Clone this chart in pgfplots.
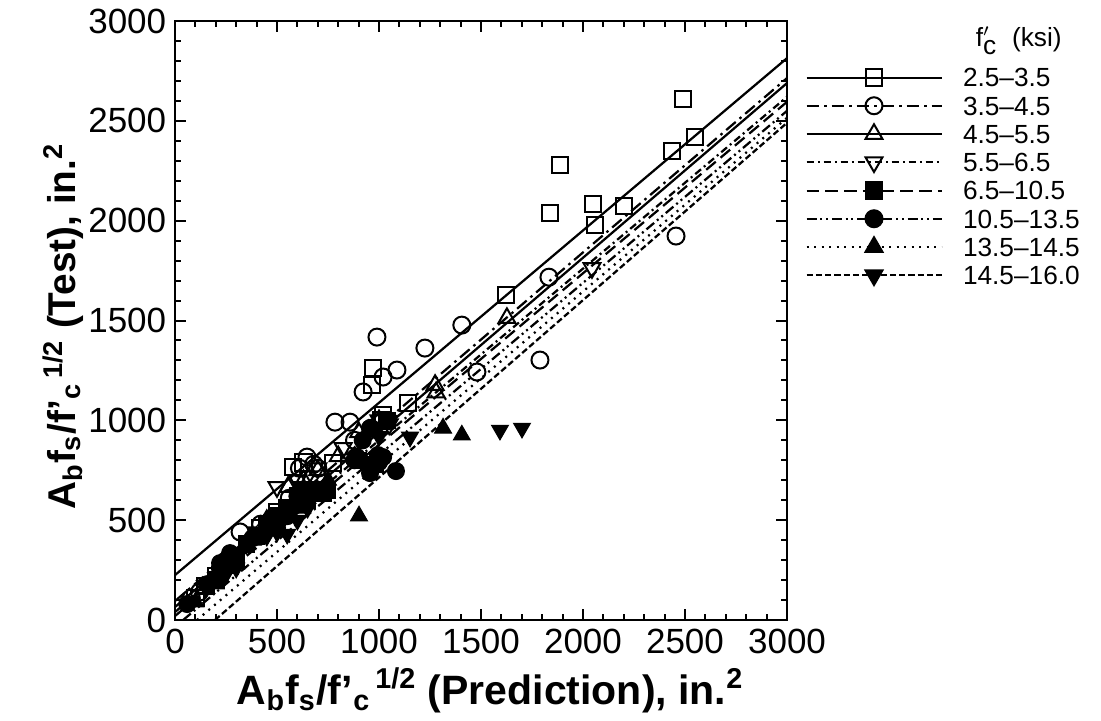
\documentclass[border=0pt]{standalone}
\usepackage{fontspec}
\setmainfont{Liberation Sans}
\usepackage{pgfplots}
\pgfplotsset{compat=1.18}

\pgfplotsset{
  lA/.style={solid},
  lB/.style={dash pattern=on 5pt off 2pt on 1pt off 2pt},
  lC/.style={solid},
  lD/.style={dash pattern=on 3pt off 1.5pt on 0.8pt off 1.5pt},
  lE/.style={dash pattern=on 5pt off 2.5pt},
  lF/.style={dash pattern=on 4pt off 1.5pt on 0.8pt off 1.5pt on 0.8pt off 1.5pt},
  lG/.style={dash pattern=on 0.8pt off 2.2pt},
  lH/.style={dash pattern=on 2.5pt off 1.2pt},
  mA/.style={mark=square, mark size=3.3pt, mark options={solid, line width=0.8pt}},
  mB/.style={mark=o, mark size=3.4pt, mark options={solid, line width=0.8pt}},
  mC/.style={mark=triangle, mark size=3.9pt, mark options={solid, line width=0.8pt}},
  mD/.style={mark=triangle, mark size=3.9pt, mark options={solid, line width=0.8pt, rotate=180}},
  mE/.style={mark=square*, mark size=3.3pt, mark options={solid, fill=black}},
  mF/.style={mark=*, mark size=3.4pt, mark options={solid, fill=black}},
  mG/.style={mark=triangle*, mark size=3.9pt, mark options={solid, fill=black}},
  mH/.style={mark=triangle*, mark size=3.9pt, mark options={solid, fill=black, rotate=180}},
}

\begin{document}
\begin{tikzpicture}
\begin{axis}[name=ax, scale only axis, width=244.8pt, height=239.6pt,
  xmin=0, xmax=3000, ymin=0, ymax=3000,
  xtick={0,500,...,3000}, ytick={0,500,...,3000},
  minor x tick num=4, minor y tick num=4,
  major tick length=4.5pt, minor tick length=2.5pt,
  every tick/.style={black, line width=0.8pt},
  axis line style={line width=1.1pt},
  ticklabel style={font=\fontsize{14}{16}\selectfont},
  /pgf/number format/assume math mode=true,
  /pgf/number format/1000 sep={},
  xlabel={A\textsubscript{b}f\textsubscript{s}/f'\textsubscript{c}\textsuperscript{\,1/2} (Prediction), in.\textsuperscript{2}},
  ylabel={A\textsubscript{b}f\textsubscript{s}/f'\textsubscript{c}\textsuperscript{\,1/2} (Test), in.\textsuperscript{2}},
  label style={font=\fontsize{16.4}{19}\selectfont\bfseries},
  xlabel style={at={(axis description cs:0.515,-0.117)}, anchor=center},
  ylabel style={at={(axis description cs:-0.183,0.49)}, anchor=center,
    font=\fontsize{15.5}{18}\selectfont\bfseries},
  legend style={at={(1.0294,0.9255)}, anchor=north west, draw=none, fill=none,
    font=\fontsize{10.5}{12}\selectfont, inner sep=0pt, row sep=2.2pt,
    nodes={inner sep=0.8pt, text height=7.5pt, text depth=0pt},
    /tikz/every odd column/.style={column sep=7.4pt}},
  legend cell align=left,
  legend image code/.code={\draw[mark repeat=2, mark phase=2, line width=0.8pt, #1]
    plot coordinates {(0pt,0pt) (27pt,0pt) (54pt,0pt)};},
]
% regression lines
\addplot[forget plot, black, line width=0.9pt, lA] coordinates {(0,225) (3000,2814)};
\addplot[forget plot, black, line width=0.9pt, lB] coordinates {(0,95) (3000,2714)};
\addplot[forget plot, black, line width=0.9pt, lC] coordinates {(0,65) (3000,2689)};
\addplot[forget plot, black, line width=0.9pt, lD] coordinates {(0,40) (3000,2620)};
\addplot[forget plot, black, line width=0.9pt, lE] coordinates {(0,20) (3000,2595)};
\addplot[forget plot, black, line width=0.9pt, lF] coordinates {(40,0) (3000,2550)};
\addplot[forget plot, black, line width=0.9pt, lG] coordinates {(108,0) (3000,2515)};
\addplot[forget plot, black, line width=0.9pt, lH] coordinates {(196,0) (3000,2490)};

% 2.5-3.5
\addplot[forget plot, only marks, black, mA] coordinates {
 (2490,2609) (2549,2419) (2436,2348) (1887,2278) (1838,2038) (2049,2083) (2059,1978)
 (2201,2073) (1622,1627) (1142,1087) (1020,1026) (971,1262) (966,1177) (578,766)
 (775,786) (630,790) (1010,1000) (300,300) (200,220) (150,170) (100,110) (420,460) (500,540)};
% 3.5-4.5
\addplot[forget plot, only marks, black, mB] coordinates {
 (2456,1923) (1833,1717) (1789,1302) (1480,1242) (1406,1477) (1225,1362) (990,1417)
 (1088,1252) (1020,1217) (922,1142) (784,991) (858,991) (319,441) (647,816) (680,780)
 (610,760) (700,760) (960,960) (880,900) (420,480) (250,290) (120,140) (80,110) (560,610)};
% 4.5-5.5
\addplot[forget plot, only marks, black, mC] coordinates {
 (1627,1512) (1275,1177) (1280,1140) (554,666) (900,940) (1000,1000) (800,820) (630,700)
 (350,380) (200,220) (450,500) (700,750) (260,260) (150,160) (950,950)};
% 5.5-6.5
\addplot[forget plot, only marks, black, mD] coordinates {
 (2044,1763) (500,666) (824,861) (1000,1000) (600,700) (700,760) (400,440) (300,330)
 (150,170) (1050,980) (650,720)};
% 6.5-10.5
\addplot[forget plot, only marks, black, mE] coordinates {
 (696,641) (745,651) (600,620) (650,600) (1040,1000) (900,800) (500,520) (450,480)
 (550,560) (400,420) (300,320) (250,280) (200,200) (350,380) (980,780) (620,650)
 (676,650) (725,635)};
% 10.5-13.5
\addplot[forget plot, only marks, black, mF] coordinates {
 (1083,746) (956,736) (995,826) (956,961) (880,800) (600,620) (250,300) (280,300)
 (220,260) (550,520) (470,490) (700,650) (1000,790) (380,410) (500,460) (160,180)
 (60,80) (920,900) (221,285) (270,335) (466,500) (613,600) (892,816) (1020,816)};
% 13.5-14.5
\addplot[forget plot, only marks, black, mG] coordinates {
 (902,521) (1314,961) (1406,926) (700,650) (600,560) (500,470) (400,420) (300,280)
 (200,180) (750,700) (650,620) (880,820) (100,90) (550,520) (529,536) (382,400)};
% 14.5-16.0
\addplot[forget plot, only marks, black, mH] coordinates {
 (1593,951) (1701,961) (1152,916) (1054,1001) (600,500) (550,430) (450,420) (350,380)
 (300,260) (250,230) (1000,920) (650,560) (500,440) (500,450) (971,766)};

\addlegendimage{black, lA, mA}
\addlegendimage{black, lB, mB}
\addlegendimage{black, lC, mC}
\addlegendimage{black, lD, mD}
\addlegendimage{black, lE, mE}
\addlegendimage{black, lF, mF}
\addlegendimage{black, lG, mG}
\addlegendimage{black, lH, mH}
\legend{2.5–3.5, 3.5–4.5, 4.5–5.5, 5.5–6.5, 6.5–10.5, 10.5–13.5, 13.5–14.5, 14.5–16.0}
\end{axis}
\node[anchor=west, font=\fontsize{10.5}{12}\selectfont, xshift=72pt, yshift=-8pt] at (ax.north east)
  {f$^{\prime}_{\textrm{c}}$\ \ (ksi)};
\path (ax.south west) ++(-70pt,-36.8pt) rectangle ++(440.4pt,284.8pt);
\end{tikzpicture}
\end{document}
